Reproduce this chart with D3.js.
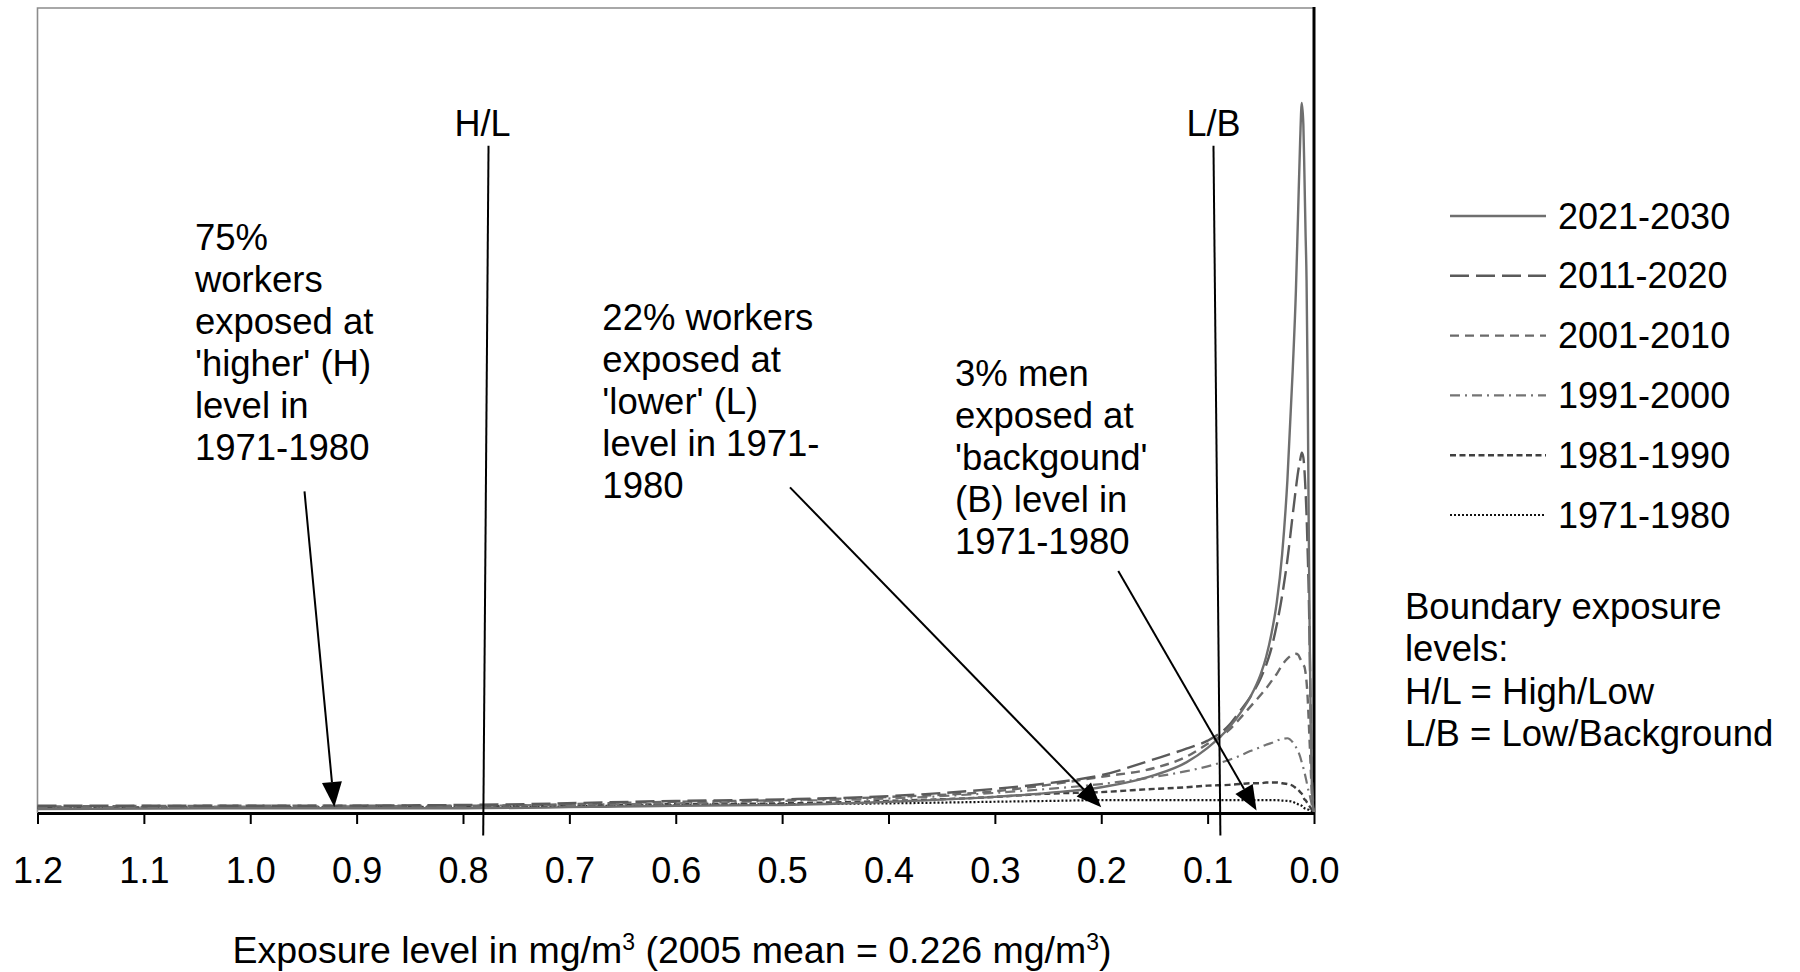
<!DOCTYPE html>
<html>
<head>
<meta charset="utf-8">
<script src="https://cdn.jsdelivr.net/npm/d3@7"></script>
<style>
  html, body { margin: 0; padding: 0; background: #fff; }
  svg text { font-family: "Liberation Sans", Arial, sans-serif; fill: #000; }
</style>
</head>
<body>
<svg id="chart" width="1800" height="972"></svg>
<script>
// Exposure levels (mg/m3) at which each decade's distribution is tabulated
const exposure = [1.2, 1.0, 0.8, 0.6, 0.5, 0.4, 0.3, 0.25, 0.2, 0.15,
  0.12, 0.1, 0.08, 0.07, 0.06, 0.05, 0.045, 0.04, 0.035, 0.03,
  0.025, 0.02, 0.017, 0.015, 0.013, 0.0115, 0.01, 0.009, 0.008, 0.007,
  0.006, 0.005, 0.004, 0.003, 0.002, 0.001, 0];

// Decades shown, newest first (legend order)
const periods = ["2021-2030", "2011-2020", "2001-2010", "1991-2000", "1981-1990", "1971-1980"];

// Relative frequency of workers at each exposure level (arbitrary units)
const freq2021_2030 = [0.5, 0.6, 0.6, 0.9, 1.0, 1.4, 2.0, 2.5, 3.2, 4.7,
  6.3, 8.1, 10.6, 12.3, 14.4, 17.3, 19.4, 22.3, 26.2, 32.1,
  41.4, 55.1, 65.0, 74.4, 83.7, 88.3, 85.6, 79.4, 72.5, 66.3,
  53.9, 36.4, 21.5, 10.3, 3.5, 1.0, 0.1];
const freq2011_2020 = [0.9, 0.9, 1.0, 1.5, 1.7, 2.1, 3.0, 3.7, 4.7, 6.7,
  8.0, 9.0, 10.9, 12.6, 14.4, 16.8, 18.4, 20.5, 23.4, 27.0,
  31.5, 37.1, 40.4, 42.4, 43.9, 44.8, 44.2, 42.7, 40.2, 37.1,
  32.7, 27.7, 20.3, 11.6, 4.7, 1.6, 0.1];
const freq2001_2010 = [0.8, 0.9, 0.9, 1.4, 1.6, 2.0, 2.7, 3.5, 4.5, 5.6,
  7.0, 8.6, 10.3, 11.7, 13.2, 14.7, 15.5, 16.4, 17.3, 18.4,
  19.2, 19.7, 19.8, 19.7, 19.2, 18.8, 18.4, 18.2, 17.5, 16.3,
  14.4, 11.6, 8.5, 5.3, 2.2, 0.7, 0.1];
const freq1991_2000 = [0.7, 0.8, 0.9, 1.2, 1.5, 1.8, 2.5, 3.0, 3.6, 4.5,
  5.2, 5.8, 6.6, 7.1, 7.7, 8.2, 8.5, 8.7, 9.0, 9.2,
  9.3, 8.8, 8.2, 7.7, 7.0, 6.3, 5.6, 5.1, 4.5, 3.9,
  3.2, 2.7, 2.2, 1.6, 1.0, 0.5, 0.1];
const freq1981_1990 = [0.7, 0.7, 0.8, 1.1, 1.2, 1.5, 2.0, 2.4, 2.6, 3.0,
  3.2, 3.4, 3.5, 3.6, 3.7, 3.7, 3.8, 3.8, 3.8, 3.7,
  3.6, 3.4, 3.1, 2.9, 2.6, 2.4, 2.0, 1.7, 1.6, 1.4,
  1.2, 1.0, 0.8, 0.6, 0.4, 0.2, 0.1];
const freq1971_1980 = [0.6, 0.7, 0.7, 1.0, 1.1, 1.2, 1.4, 1.5, 1.6, 1.6,
  1.6, 1.6, 1.6, 1.6, 1.6, 1.6, 1.6, 1.6, 1.6, 1.55,
  1.5, 1.4, 1.2, 1.1, 1.0, 0.9, 0.7, 0.6, 0.55, 0.5,
  0.45, 0.4, 0.3, 0.25, 0.2, 0.1, 0.05];

// x-axis tick labels (axis runs from high exposure on the left to zero on the right)
const xTickValues = [1.2, 1.1, 1.0, 0.9, 0.8, 0.7, 0.6, 0.5, 0.4, 0.3, 0.2, 0.1, 0.0];

// Boundary exposure levels (slightly tilted reference lines: value at top and at bottom)
const boundaryLabels = ["H/L", "L/B"];
const boundaryTop = [0.776, 0.0945];
const boundaryBottom = [0.781, 0.088];

// Callout texts with their arrows (text anchor, arrow start, arrow tip in data units)
const noteLines = [
  ["75%", "workers", "exposed at", "'higher' (H)", "level in", "1971-1980"],
  ["22% workers", "exposed at", "'lower' (L)", "level in 1971-", "1980"],
  ["3% men", "exposed at", "'backgound'", "(B) level in", "1971-1980"]
];
const noteAnchor = [[1.052, 70.0], [0.669, 60.1], [0.3375, 53.1]];
const arrowFrom = [[0.949, 40.0], [0.4926, 40.5], [0.184, 30.1]];
const arrowTo = [[0.921, 0.75], [0.2, 0.7], [0.054, 0.3]];

const keyLines = ["Boundary exposure", "levels:", "H/L = High/Low", "L/B = Low/Background"];
const axisTitle = ["Exposure level in mg/m", "3", " (2005 mean = 0.226 mg/m", "3", ")"];

const seriesValues = [freq2021_2030, freq2011_2020, freq2001_2010, freq1991_2000, freq1981_1990, freq1971_1980];

// Line styling per decade
const lineStyle = [
  { stroke: "#6f6f6f", dash: null, width: 2.4 },
  { stroke: "#5a5a5a", dash: "19,7", width: 2.4 },
  { stroke: "#6a6a6a", dash: "9,6", width: 2.4 },
  { stroke: "#747474", dash: "10,5,2,5", width: 2.2 },
  { stroke: "#404040", dash: "6,3.5", width: 2.4 },
  { stroke: "#111111", dash: "2,2", width: 2.2 }
];

const svg = d3.select("#chart");
const plot = { left: 37.5, right: 1314, top: 8, bottom: 813 };

const x = d3.scaleLinear().domain([1.2, 0]).range([plot.left, plot.right]);
const y = d3.scaleLinear().domain([0, 100]).range([plot.bottom, plot.top + 1]);

// Plot frame: light grey top/left edges, heavy black right edge
svg.append("path")
  .attr("d", `M${plot.left},${plot.bottom}V${plot.top}H${plot.right}`)
  .attr("fill", "none").attr("stroke", "#8c8c8c").attr("stroke-width", 1.6);
svg.append("line")
  .attr("x1", plot.right).attr("x2", plot.right)
  .attr("y1", plot.top - 1).attr("y2", plot.bottom)
  .attr("stroke", "#000").attr("stroke-width", 3);

// Distribution curves
const line = d3.line()
  .x(d => x(d.e))
  .y(d => y(d.v))
  .curve(d3.curveMonotoneX);

const curves = svg.append("g").attr("class", "curves");
periods.slice().reverse().forEach(p => {
  const i = periods.indexOf(p);
  const pts = exposure.map((e, k) => ({ e: e, v: seriesValues[i][k] }));
  const st = lineStyle[i];
  curves.append("path")
    .datum(pts)
    .attr("d", line)
    .attr("fill", "none")
    .attr("stroke", st.stroke)
    .attr("stroke-width", st.width)
    .attr("stroke-dasharray", st.dash)
    .attr("stroke-linejoin", "round");
});

// Bottom axis
const xAxis = d3.axisBottom(x)
  .tickValues(xTickValues)
  .tickFormat(d3.format(".1f"))
  .tickSize(11)
  .tickSizeOuter(0);
const gx = svg.append("g")
  .attr("transform", `translate(0,${plot.bottom})`)
  .call(xAxis)
  .attr("font-size", 36)
  .attr("font-family", '"Liberation Sans", Arial, sans-serif');
gx.select(".domain").attr("stroke", "#000").attr("stroke-width", 3);
gx.selectAll(".tick line").attr("stroke", "#000").attr("stroke-width", 2);
gx.selectAll(".tick text").attr("y", 70).attr("dy", null).attr("fill", "#000");

// Axis title with superscripts
const title = svg.append("text")
  .attr("x", 672)
  .attr("y", 963)
  .attr("text-anchor", "middle")
  .attr("font-size", 37.5);
axisTitle.forEach((t, k) => {
  const sup = (k === 1 || k === 3);
  const ts = title.append("tspan").text(t);
  if (sup) ts.attr("font-size", 23).attr("dy", -13);
  else if (k > 0) ts.attr("dy", 13);
});

// Boundary lines with their labels
const gb = svg.append("g");
boundaryLabels.forEach((lab, i) => {
  const topV = 83.0, botV = -2.8;
  gb.append("line")
    .attr("x1", x(boundaryTop[i])).attr("y1", y(topV))
    .attr("x2", x(boundaryBottom[i])).attr("y2", y(botV))
    .attr("stroke", "#000").attr("stroke-width", 2);
  gb.append("text")
    .attr("x", x(boundaryTop[i]) - (i === 0 ? 6 : 0))
    .attr("y", y(topV) - 10)
    .attr("text-anchor", "middle")
    .attr("font-size", 36)
    .text(lab);
});

// Callouts: multi-line text and arrows
function drawArrow(g, x1, y1, x2, y2) {
  const L = 25, Wd = 10;
  const dx = x2 - x1, dy = y2 - y1, len = Math.hypot(dx, dy);
  const ux = dx / len, uy = dy / len;
  const bx = x2 - ux * L, by = y2 - uy * L;
  g.append("line")
    .attr("x1", x1).attr("y1", y1).attr("x2", bx).attr("y2", by)
    .attr("stroke", "#000").attr("stroke-width", 2);
  g.append("path")
    .attr("d", `M${x2},${y2}L${bx - uy * Wd},${by + ux * Wd}L${bx + uy * Wd},${by - ux * Wd}Z`)
    .attr("fill", "#000");
}

const gn = svg.append("g");
noteLines.forEach((lines, i) => {
  const t = gn.append("text")
    .attr("x", x(noteAnchor[i][0]))
    .attr("y", y(noteAnchor[i][1]))
    .attr("font-size", 36.5);
  lines.forEach((s, k) => {
    t.append("tspan")
      .attr("x", x(noteAnchor[i][0]))
      .attr("dy", k === 0 ? 0 : 42)
      .text(s);
  });
  drawArrow(gn, x(arrowFrom[i][0]), y(arrowFrom[i][1]), x(arrowTo[i][0]), y(arrowTo[i][1]));
});

// Legend
const legend = svg.append("g").attr("transform", "translate(1450,216)");
periods.forEach((p, i) => {
  const st = lineStyle[i];
  const row = legend.append("g").attr("transform", `translate(0,${i * 59.8})`);
  row.append("line")
    .attr("x1", 0).attr("x2", 96).attr("y1", 0).attr("y2", 0)
    .attr("stroke", st.stroke)
    .attr("stroke-width", st.width)
    .attr("stroke-dasharray", st.dash);
  row.append("text")
    .attr("x", 108).attr("y", 12.5)
    .attr("font-size", 36)
    .text(p);
});

// Key to the boundary labels
const key = svg.append("text").attr("x", 1405).attr("y", 619).attr("font-size", 36.5);
keyLines.forEach((s, k) => {
  key.append("tspan").attr("x", 1405).attr("dy", k === 0 ? 0 : 42.4).text(s);
});
</script>
</body>
</html>
